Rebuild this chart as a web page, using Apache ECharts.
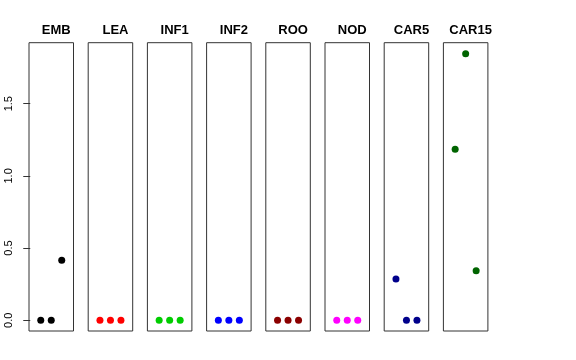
<!DOCTYPE html>
<html><head><meta charset="utf-8">
<script src="https://cdn.jsdelivr.net/npm/echarts@6/dist/echarts.min.js"></script>
<style>html,body{margin:0;padding:0;background:#fff}#c{width:576px;height:360px}</style>
</head><body><div id="c"></div>
<script>
const categories = ["EMB","LEA","INF1","INF2","ROO","NOD","CAR5","CAR15"];
const colors = ["#000000","#FF0000","#00CD00","#0000FF","#8B0000","#FF00FF","#00008B","#006400"];
const xPos = [1,2,3];
const EMB = [0,0,0.415];
const LEA = [0,0,0];
const INF1 = [0,0,0];
const INF2 = [0,0,0];
const ROO = [0,0,0];
const NOD = [0,0,0];
const CAR5 = [0.286,0,0];
const CAR15 = [1.184,1.846,0.343];
const seriesValues = [EMB,LEA,INF1,INF2,ROO,NOD,CAR5,CAR15];
const yTicks = [0,0.5,1,1.5];

(function(){
const left0 = 29, pitch = 59.2, w = 44.5, gTop = 42.7, h = 288.3;
const grids = [], xAxes = [], yAxes = [], series = [], titles = [];
categories.forEach((c,i)=>{
  const l = left0 + pitch*i;
  grids.push({left:l, top:gTop, width:w, height:h, show:true, borderColor:'#333', borderWidth:1, backgroundColor:'transparent', containLabel:false});
  xAxes.push({gridIndex:i, type:'value', min:-0.12, max:4.12, show:false});
  yAxes.push({gridIndex:i, type:'value', min:-0.074, max:1.922, show:i===0,
    splitLine:{show:false}, axisLine:{show:false},
    axisTick:{show:true, customValues:yTicks, length:7, lineStyle:{color:'#333'}},
    axisLabel:{show:true, customValues:yTicks, rotate:90, margin:15, fontSize:11, color:'#000',
      fontFamily:'Liberation Sans, Arial, sans-serif', formatter:v=>v.toFixed(1)}});
  series.push({type:'scatter', xAxisIndex:i, yAxisIndex:i, symbolSize:7, itemStyle:{color:colors[i], opacity:1},
    data: xPos.map((x,k)=>[x, seriesValues[i][k]]), animation:false});
  titles.push({text:c, left:l + w/2, top:19, textAlign:'center',
    textStyle:{fontSize:13, fontWeight:'bold', color:'#000', fontFamily:'Liberation Sans, Arial, sans-serif'}});
});
const chart = echarts.init(document.getElementById('c'), null, {renderer:'canvas'});
chart.setOption({animation:false, title:titles, grid:grids, xAxis:xAxes, yAxis:yAxes, series:series});
})();
</script></body></html>
